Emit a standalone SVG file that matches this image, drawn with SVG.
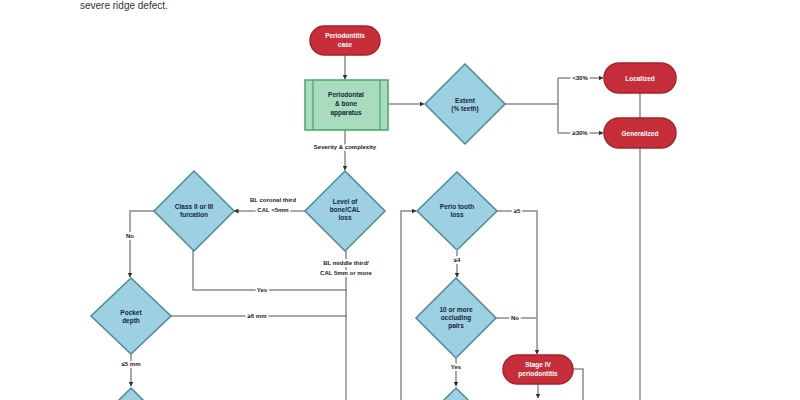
<svg xmlns="http://www.w3.org/2000/svg" width="800" height="400" viewBox="0 0 800 400">
<defs>
<marker id="ah" viewBox="0 0 10 10" refX="9" refY="5" markerWidth="5" markerHeight="5" orient="auto" markerUnits="userSpaceOnUse">
<path d="M0,0 L10,5 L0,10 z" fill="#333"/>
</marker>
<style>
.t{font-family:"Liberation Sans",Arial,sans-serif;font-weight:bold;font-size:6.5px;text-anchor:middle}
.dt{fill:#14263a}
.wt{fill:#fff}
.lb{font-family:"Liberation Sans",Arial,sans-serif;font-weight:bold;font-size:6px;text-anchor:middle;fill:#222;stroke:#fff;stroke-width:4;paint-order:stroke;stroke-linejoin:round}
.dia{fill:#9dd0e0;stroke:#4a8a9c;stroke-width:1.5}
.term{fill:#c62f3a;stroke:#a8212c;stroke-width:1.5}
.proc{fill:#a9dcbc;stroke:#4aa46c;stroke-width:1.5}
.c{fill:none;stroke:#8c8c8c;stroke-width:1.5}
.ca{fill:none;stroke:#8c8c8c;stroke-width:1.5;marker-end:url(#ah)}
</style>
</defs>
<rect width="800" height="400" fill="#fff"/>
<text x="80" y="9" font-family="Liberation Sans,Arial,sans-serif" font-size="10" fill="#333">severe ridge defect.</text>

<g id="connectors">
<path class="ca" d="M345,55 V79"/>
<path class="ca" d="M388,104 H424"/>
<path class="c" d="M504,104 H558 M558,78 V133"/>
<path class="ca" d="M558,78 H603"/>
<path class="ca" d="M558,133 H603"/>
<path class="c" d="M640,93 V118 M640,148 V400"/>
<path class="ca" d="M345,130 V170"/>
<path class="ca" d="M305,211 H234"/>
<path class="ca" d="M155,211 H130 V277"/>
<path class="c" d="M193,250 V290 H347"/>
<path class="c" d="M346,251 V400"/>
<path class="c" d="M171,316 H347"/>
<path class="ca" d="M131,354 V386"/>
<path class="ca" d="M401,400 V211 H416"/>
<path class="ca" d="M497,211 H537 V354"/>
<path class="ca" d="M457,251 V277"/>
<path class="c" d="M495,318 H537"/>
<path class="ca" d="M456,358 V386"/>
<path class="c" d="M573,369 H583 V400"/>
<path class="ca" d="M538,384 V398"/>
<text class="lb" x="580" y="80">&lt;30%</text>
<text class="lb" x="580" y="135">≥30%</text>
<text class="lb" x="345" y="149">Severity &amp; complexity</text>
<text class="lb" x="273" y="202">BL coronal third</text>
<text class="lb" x="273" y="212">CAL &lt;5mm</text>
<text class="lb" x="130" y="238">No</text>
<text class="lb" x="346" y="265">BL middle third/</text>
<text class="lb" x="346" y="275">CAL 5mm or more</text>
<text class="lb" x="262" y="292">Yes</text>
<text class="lb" x="257" y="318">≥6 mm</text>
<text class="lb" x="131" y="366">≤5 mm</text>
<text class="lb" x="517" y="213">≥5</text>
<text class="lb" x="457" y="262">≤4</text>
<text class="lb" x="515" y="320">No</text>
<text class="lb" x="456" y="369">Yes</text>
</g>

<g id="periodontitis-case">
<rect class="term" x="310" y="26" width="70" height="29" rx="14.5"/>
<text class="t wt" x="345" y="38">Periodontitis</text>
<text class="t wt" x="345" y="47">case</text>
</g>

<g id="periodontal-bone">
<rect class="proc" x="305" y="80" width="83" height="50"/>
<path d="M313,80 V130 M380,80 V130" stroke="#4aa46c" stroke-width="1.2" fill="none"/>
<text class="t dt" x="346" y="97">Periodontal</text>
<text class="t dt" x="346" y="106">&amp; bone</text>
<text class="t dt" x="346" y="115">apparatus</text>
</g>

<g id="extent">
<path class="dia" d="M465,64 L505,104 L465,144 L425,104 z"/>
<text class="t dt" x="465" y="103">Extent</text>
<text class="t dt" x="465" y="111">(% teeth)</text>
</g>

<g id="localized">
<rect class="term" x="604" y="63" width="72" height="30" rx="15"/>
<text class="t wt" x="640" y="80.5">Localized</text>
</g>

<g id="generalized">
<rect class="term" x="604" y="118" width="72" height="30" rx="15"/>
<text class="t wt" x="640" y="135.5">Generalized</text>
</g>

<g id="level">
<path class="dia" d="M345,171 L385,211 L345,251 L305,211 z"/>
<text class="t dt" x="345" y="204">Level of</text>
<text class="t dt" x="345" y="212">bone/CAL</text>
<text class="t dt" x="345" y="220">loss</text>
</g>

<g id="furcation">
<path class="dia" d="M194,171 L234,211 L194,251 L154,211 z"/>
<text class="t dt" x="194" y="209">Class II or III</text>
<text class="t dt" x="194" y="217">furcation</text>
</g>

<g id="pocket-depth">
<path class="dia" d="M131,278 L171,316 L131,354 L91,316 z"/>
<text class="t dt" x="131" y="315">Pocket</text>
<text class="t dt" x="131" y="323">depth</text>
</g>

<g id="bottom-left-decision">
<path class="dia" d="M131,388 L171,428 L131,468 L91,428 z"/>
</g>

<g id="tooth-loss">
<path class="dia" d="M457,172 L497,211 L457,250 L417,211 z"/>
<text class="t dt" x="457" y="209">Perio tooth</text>
<text class="t dt" x="457" y="217">loss</text>
</g>

<g id="occluding-pairs">
<path class="dia" d="M456,278 L496,318 L456,358 L416,318 z"/>
<text class="t dt" x="456" y="312">10 or more</text>
<text class="t dt" x="456" y="320">occluding</text>
<text class="t dt" x="456" y="328">pairs</text>
</g>

<g id="bottom-mid-decision">
<path class="dia" d="M456,388 L496,428 L456,468 L416,428 z"/>
</g>

<g id="stage-iv">
<rect class="term" x="503" y="355" width="70" height="29" rx="14.5"/>
<text class="t wt" x="538" y="367">Stage IV</text>
<text class="t wt" x="538" y="376">periodontitis</text>
</g>
</svg>
